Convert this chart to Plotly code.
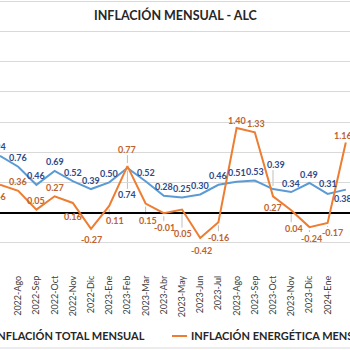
import plotly.graph_objects as go

months = ["2022-Jul", "2022-Ago", "2022-Sep", "2022-Oct", "2022-Nov", "2022-Dic",
          "2023-Ene", "2023-Feb", "2023-Mar", "2023-Abr", "2023-May", "2023-Jun",
          "2023-Jul", "2023-Ago", "2023-Sep", "2023-Oct", "2023-Nov", "2023-Dic",
          "2024-Ene", "2024-Feb"]
total = [0.94, 0.76, 0.46, 0.69, 0.52, 0.39, 0.50, 0.74, 0.52, 0.28, 0.25, 0.30,
         0.46, 0.51, 0.53, 0.39, 0.34, 0.49, 0.31, 0.38]
energia = [0.46, 0.36, 0.05, 0.27, 0.16, -0.27, 0.11, 0.77, 0.15, -0.01, 0.05, -0.42,
           -0.16, 1.40, 1.33, 0.27, 0.04, -0.24, -0.17, 1.16]

# label placement offsets in pixels (style only; positive = up / right)
dy_total = [9, 9, 9, 9, 9, 9, 9, -27, 9, 9, 9, 9, 9, 9, 9, 25, 9, 9, 10, -9]
dx_total = [-3, 0, 0, 0, 0, 0, 0, 0, 0, 0, 0, 0, 0, 0, 0, 3, 0, 0, 0, -3]
dy_energia = [-12, 9, 9, 9, -14, -11, -15, 17, -17, -14, -24, -13, -15, 8, 9,
              -11, -18, -11, -10, 7]
dx_energia = [-3, 0, 0, 0, 0, 0, 6, 0, 2, 1, 1, 1, 0, 0, 1, 0, 3, 2, 5, -3]
leader_total = [7, 15]
leader_energia = [6, 7, 8, 9, 10, 12, 16, 17, 18]

FONT = "Lato"
BLUE = "#5B9BD5"
ORANGE = "#ED7D31"
BLUE_TXT = "#2F4A8A"
ORANGE_TXT = "#C0622A"
LEADER = "#BFBFBF"

x = list(range(len(months)))

fig = go.Figure()
fig.add_trace(go.Scatter(
    x=x, y=total, mode="lines", name="INFLACIÓN TOTAL MENSUAL",
    line=dict(color=BLUE, width=2), showlegend=False))
fig.add_trace(go.Scatter(
    x=x, y=energia, mode="lines", name="INFLACIÓN ENERGÉTICA MENSUAL",
    line=dict(color=ORANGE, width=2), showlegend=False))

PH = 273.0  # plot area height in px
def py(px):
    return (PH - px) / PH

annotations = []
shapes = []
for vals, dys, dxs, col, leaders in [(total, dy_total, dx_total, BLUE_TXT, leader_total),
                                     (energia, dy_energia, dx_energia, ORANGE_TXT, leader_energia)]:
    for i, v in enumerate(vals):
        annotations.append(dict(
            x=x[i], y=v, xref="x", yref="y", text=f"{v:.2f}", showarrow=False,
            xanchor="center", yanchor="middle", xshift=dxs[i], yshift=dys[i],
            font=dict(family=FONT, size=9, color=col, weight=700)))
        if i in leaders:
            s = 1 if dys[i] > 0 else -1
            shapes.append(dict(
                type="line", xref="x", yref="y", xsizemode="pixel", ysizemode="pixel",
                xanchor=x[i], yanchor=v, x0=0, x1=0,
                y0=s * 3, y1=dys[i] - s * 6, line=dict(color=LEADER, width=1), layer="below"))

annotations += [
    dict(text="INFLACIÓN MENSUAL - ALC", xref="paper", yref="paper",
         x=176 / 350, y=py(15), xanchor="center", yanchor="middle", showarrow=False,
         font=dict(family=FONT, size=12.5, color="#262626", weight=700)),
    dict(text="INFLACIÓN TOTAL MENSUAL", xref="paper", yref="paper",
         x=147 / 350, y=py(335), xanchor="right", yanchor="middle", showarrow=False,
         font=dict(family=FONT, size=11, color="#262626", weight=700)),
    dict(text="INFLACIÓN ENERGÉTICA MENSUAL", xref="paper", yref="paper",
         x=189 / 350, y=py(335), xanchor="left", yanchor="middle", showarrow=False,
         font=dict(family=FONT, size=11, color="#262626", weight=700)),
]
shapes += [
    dict(type="line", xref="paper", yref="paper", x0=172 / 350, x1=187 / 350,
         y0=py(336), y1=py(336), line=dict(color=ORANGE, width=2)),
    dict(type="line", xref="paper", yref="paper", x0=0, x1=1,
         y0=py(348), y1=py(348), line=dict(color="#D9D9D9", width=1)),
]

fig.update_layout(
    width=350, height=350,
    margin=dict(l=0, r=0, t=0, b=77),
    paper_bgcolor="white", plot_bgcolor="white",
    font=dict(family=FONT, color="#404040"),
    xaxis=dict(range=[0, 19.23], tickvals=x, ticktext=months, tickangle=-90,
               tickfont=dict(family=FONT, size=9, color="#404040"),
               showgrid=False, zeroline=False, showline=False, ticks=""),
    yaxis=dict(range=[-1, 3.52], dtick=0.5, tick0=0, showticklabels=False,
               showgrid=True, gridcolor="#D9D9D9", gridwidth=1,
               zeroline=True, zerolinecolor="black", zerolinewidth=2),
    annotations=annotations,
    shapes=shapes,
)

fig.write_html("out.html")
